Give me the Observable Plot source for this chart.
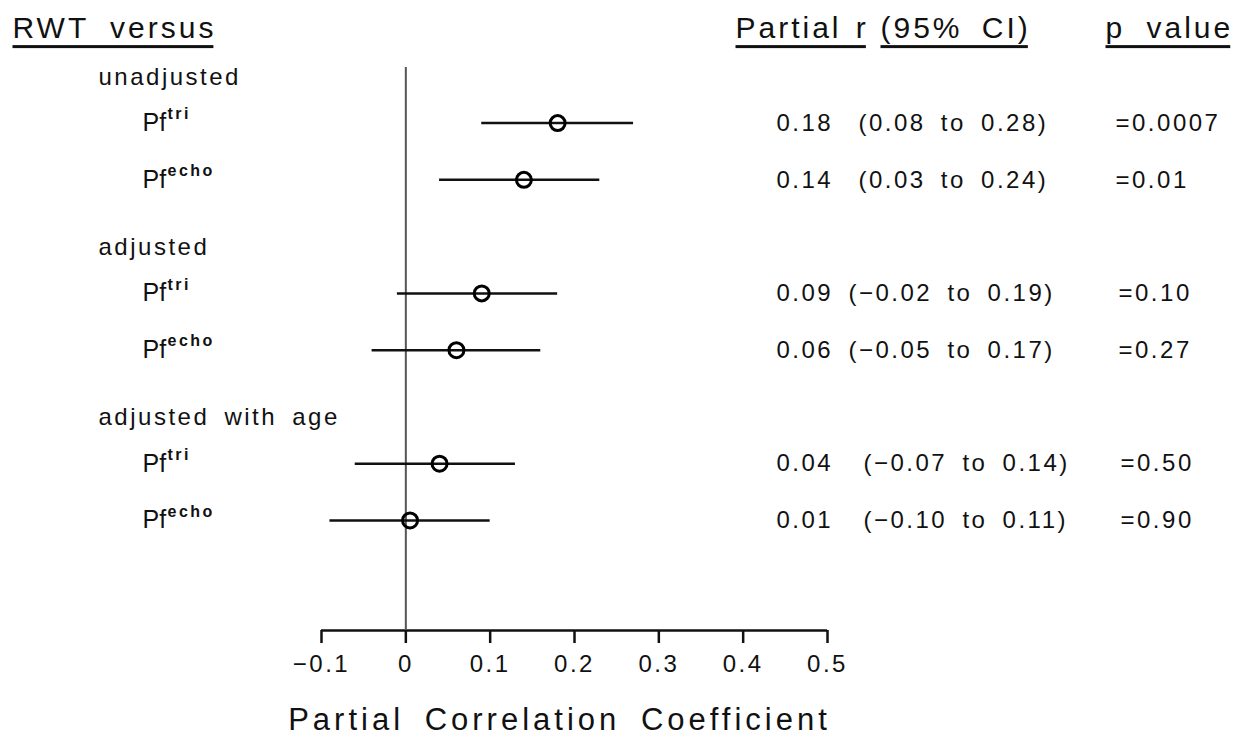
<!DOCTYPE html>
<html><head><meta charset="utf-8">
<script src="https://cdn.jsdelivr.net/npm/d3@7"></script>
<script src="https://cdn.jsdelivr.net/npm/@observablehq/plot@0.6"></script>
<style>
html,body{margin:0;padding:0;background:#fff;}
svg text{letter-spacing:2.5px;word-spacing:6px;}
g[font-size="25"] text{letter-spacing:0;}
g[font-size="30"] text{letter-spacing:3px;word-spacing:8px;}
g[font-size="31"] text{letter-spacing:4px;word-spacing:8px;}
</style></head><body><div id="chart"></div>
<script>
const groups = ["unadjusted", "adjusted", "adjusted with age"];
const measures = ["tri", "echo"];
const estimate = [0.18, 0.14, 0.09, 0.06, 0.04, 0.005];
const ciLow = [0.09, 0.04, -0.01, -0.04, -0.06, -0.09];
const ciHigh = [0.27, 0.23, 0.18, 0.16, 0.13, 0.10];
const rLabels = ["0.18", "0.14", "0.09", "0.06", "0.04", "0.01"];
const ciLabels = ["(0.08 to 0.28)", "(0.03 to 0.24)", "(\u22120.02 to 0.19)", "(\u22120.05 to 0.17)", "(\u22120.07 to 0.14)", "(\u22120.10 to 0.11)"];
const pLabels = ["=0.0007", "=0.01", "=0.10", "=0.27", "=0.50", "=0.90"];
const xTicks = [-0.1, 0, 0.1, 0.2, 0.3, 0.4, 0.5];
const columnHeaders = ["RWT versus", "Partial r", "(95% CI)", "p value"];
const axisTitle = "Partial Correlation Coefficient";

// layout (row units and pixel offsets)
const headerOffsets = [-309, 414, 559, 784];
const headerWordSpacing = [10, 3, 8, 10];
const ciOffsets = [537, 527, 542];
const pOffsets = [794, 797, 799];
const yDomain = [-0.17, 9.75];
const rows = estimate.map((e, i) => {
  const gi = Math.floor(i / 2), mi = i % 2;
  return {gi, group: groups[gi], measure: measures[mi], est: e, lo: ciLow[i], hi: ciHigh[i],
    r: rLabels[i], ci: ciLabels[i], p: pLabels[i], pos: gi * 3 + 0.81 + mi};
});
const headers = groups.map((g, i) => ({label: g, pos: i * 3}));

const plot = Plot.plot({
  width: 1251, height: 744,
  marginLeft: 321, marginRight: 424, marginTop: 67, marginBottom: 114,
  style: {fontFamily: "'Liberation Sans', Arial, sans-serif", color: "#111", background: "#fff"},
  x: {domain: [-0.1, 0.5]},
  y: {domain: yDomain, reverse: true, axis: null},
  marks: [
    Plot.ruleY([yDomain[1]], {strokeWidth: 2.5, stroke: "#111"}),
    Plot.ruleX([0], {stroke: "#555", strokeWidth: 2}),
    Plot.axisX({ticks: xTicks, tickSize: 13, tickPadding: 11, fontSize: 24, strokeWidth: 2.5, label: null, tickFormat: d3.format("")}),
    Plot.ruleY(rows, {y: "pos", x1: "lo", x2: "hi", strokeWidth: 2.5, stroke: "#111"}),
    Plot.dot(rows, {x: "est", y: "pos", r: 7.5, stroke: "#000", strokeWidth: 3, fill: "none"}),
    Plot.text(headers, {y: "pos", text: "label", frameAnchor: "left", dx: -223, textAnchor: "start", fontSize: 24}),
    Plot.text(rows, {y: "pos", text: () => "Pf", frameAnchor: "left", dx: -179, textAnchor: "start", fontSize: 25}),
    Plot.text(rows, {y: "pos", text: "measure", frameAnchor: "left", dx: -154, dy: -9, textAnchor: "start", fontSize: 16, fontWeight: "bold"}),
    Plot.text(rows, {y: "pos", text: "r", frameAnchor: "left", dx: 455, textAnchor: "start", fontSize: 24}),
    ...groups.map((g, gi) => Plot.text(rows, {filter: d => d.gi === gi, y: "pos", text: "ci", frameAnchor: "left", dx: ciOffsets[gi], textAnchor: "start", fontSize: 24})),
    ...groups.map((g, gi) => Plot.text(rows, {filter: d => d.gi === gi, y: "pos", text: "p", frameAnchor: "left", dx: pOffsets[gi], textAnchor: "start", fontSize: 24})),
    ...columnHeaders.map((h, i) => Plot.text([h], {text: d => d, frameAnchor: "top-left", lineAnchor: "middle", dx: headerOffsets[i], dy: -39, textAnchor: "start", fontSize: 30})),
    Plot.text([axisTitle], {text: d => d, frameAnchor: "bottom", lineAnchor: "middle", dx: -15, dy: 90, fontSize: 31})
  ]
});
document.getElementById("chart").appendChild(plot);
// underline column headers
d3.select(plot).selectAll('g[font-size="30"] text').each(function () {
  const idx = columnHeaders.indexOf(this.textContent);
  if (idx >= 0) this.style.wordSpacing = headerWordSpacing[idx] + "px";
  const b = this.getBBox();
  d3.select(this.parentNode).append("rect")
    .attr("transform", this.getAttribute("transform"))
    .attr("x", b.x).attr("y", b.y + b.height + 1)
    .attr("width", b.width - 3).attr("height", 3)
    .attr("fill", "#111");
});
</script></body></html>
